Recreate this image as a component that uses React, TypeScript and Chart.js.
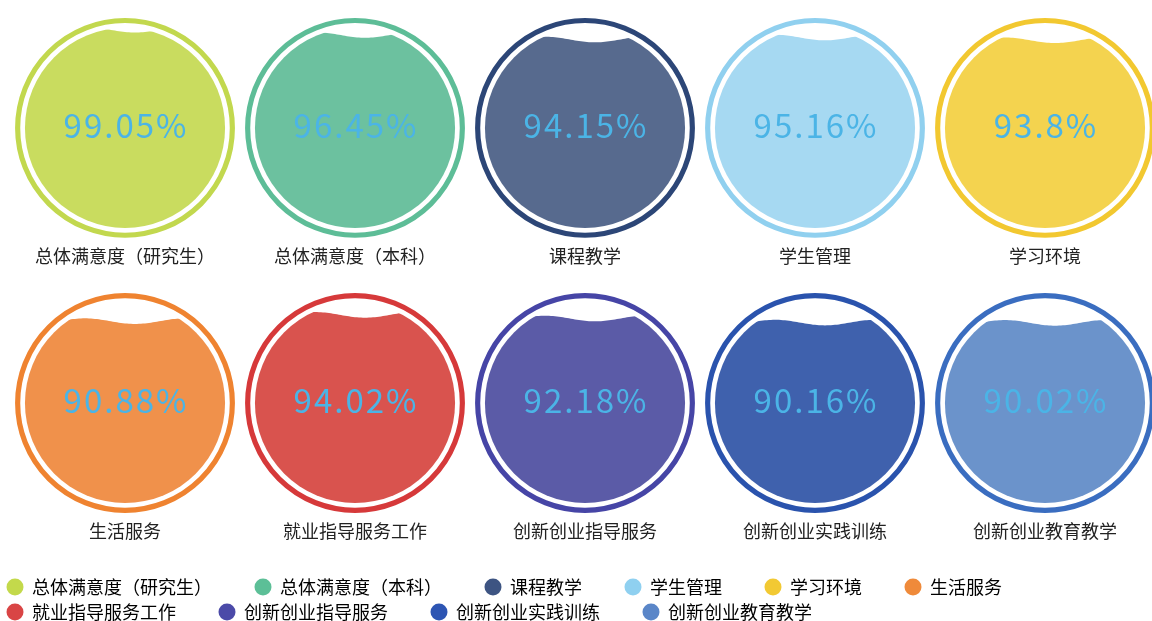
import React, { useEffect, useRef } from 'react';
import { Chart, registerables } from 'chart.js';

Chart.register(...registerables);

const FONT = '"Noto Sans CJK SC", "Noto Sans", sans-serif';

const categories = [
  '总体满意度（研究生）',
  '总体满意度（本科）',
  '课程教学',
  '学生管理',
  '学习环境',
  '生活服务',
  '就业指导服务工作',
  '创新创业指导服务',
  '创新创业实践训练',
  '创新创业教育教学',
];

const values = [99.05, 96.45, 94.15, 95.16, 93.8, 90.88, 94.02, 92.18, 90.16, 90.02];

const fillColors = [
  '#c9dc5f', '#6cc19f', '#576a8e', '#a6d9f2', '#f4d34f',
  '#f0914b', '#d9534e', '#5b5ba7', '#3f61ad', '#6b93cb',
];

const ringColors = [
  '#c2d84e', '#5dbd97', '#2c4677', '#90d0ef', '#f2c830',
  '#ef8330', '#d6393a', '#4645a6', '#2a53ad', '#3a6dc0',
];

const legendColors = [
  '#c3d94b', '#5cbf97', '#3d5482', '#8fd0f0', '#f2c933',
  '#ef8a3a', '#d94545', '#4b4aa8', '#2d55b3', '#5a86c8',
];

const COLS = 5;

const liquidPlugin = {
  id: 'liquidFill',
  afterDatasetsDraw(chart: any) {
    const ctx = chart.ctx as CanvasRenderingContext2D;
    const xs = chart.scales.x;
    const R = Math.abs(xs.getPixelForValue(1) - xs.getPixelForValue(0)) * 0.478;
    const ringW = R * 0.047;
    const r = R * 0.91;
    chart.data.datasets.forEach((ds: any, i: number) => {
      const el = chart.getDatasetMeta(i).data[0];
      if (!el) return;
      const cx = el.x;
      const cy = el.y;
      ctx.save();
      // outer ring
      ctx.beginPath();
      ctx.arc(cx, cy, R - ringW / 2, 0, Math.PI * 2);
      ctx.lineWidth = ringW;
      ctx.strokeStyle = ringColors[i];
      ctx.stroke();
      // liquid
      ctx.save();
      ctx.beginPath();
      ctx.arc(cx, cy, r, 0, Math.PI * 2);
      ctx.clip();
      const level = cy + r - (values[i] / 100) * 2 * r;
      const A = r * 0.028;
      const L = r * 1.0;
      const phase = cx + r * 0.1;
      ctx.beginPath();
      ctx.moveTo(cx - r - 2, cy + r + 2);
      for (let x = cx - r - 2; x <= cx + r + 2; x += 2) {
        const y = level + A * Math.cos((2 * Math.PI * (x - phase)) / L);
        ctx.lineTo(x, y);
      }
      ctx.lineTo(cx + r + 2, cy + r + 2);
      ctx.closePath();
      ctx.fillStyle = fillColors[i];
      ctx.fill();
      ctx.restore();
      // value text
      ctx.font = `400 33px ${FONT}`;
      (ctx as any).letterSpacing = '2px';
      ctx.fillStyle = '#4bb4e6';
      ctx.textAlign = 'center';
      ctx.textBaseline = 'middle';
      ctx.fillText(`${values[i]}%`, cx + 1, cy - 2);
      (ctx as any).letterSpacing = '0px';
      // category label
      ctx.font = `400 18px ${FONT}`;
      ctx.fillStyle = '#222';
      ctx.fillText(categories[i], cx, cy + R + 18);
      ctx.restore();
    });
  },
};

export default function App() {
  const ref = useRef<HTMLCanvasElement | null>(null);

  useEffect(() => {
    document.body.style.margin = '0';
    document.documentElement.style.overflow = 'hidden';
    document.body.style.overflow = 'hidden';
    const canvas = ref.current;
    if (!canvas) return;
    const datasets = categories.map((name, i) => ({
      label: name,
      data: [{ x: i % COLS, y: i < COLS ? 1 : 0 }],
      backgroundColor: legendColors[i],
      borderColor: legendColors[i],
      pointRadius: 0,
      pointHoverRadius: 0,
      pointStyle: 'circle',
    }));
    const chart = new Chart(canvas, {
      type: 'scatter',
      data: { datasets },
      plugins: [liquidPlugin],
      options: {
        animation: false,
        responsive: true,
        maintainAspectRatio: false,
        layout: { padding: 0 },
        events: [],
        scales: {
          x: { type: 'linear', display: false, min: -0.5435, max: 4.4652 },
          y: { type: 'linear', display: false, min: -0.611, max: 1.465 },
        },
        plugins: {
          tooltip: { enabled: false },
          legend: {
            position: 'bottom',
            align: 'start',
            labels: {
              usePointStyle: true,
              pointStyle: 'circle',
              boxWidth: 16,
              boxHeight: 12,
              padding: 7,
              color: '#333',
              font: { size: 18, family: FONT },
              generateLabels: () =>
                categories.map((name, i) => ({
                  text: name + '\u3000\u3000',
                  fillStyle: legendColors[i],
                  strokeStyle: legendColors[i],
                  lineWidth: 0,
                  pointStyle: 'circle',
                  hidden: false,
                  datasetIndex: i,
                })),
            },
          },
        },
      } as any,
    });
    return () => chart.destroy();
  }, []);

  return (
    <div style={{ width: 1152, height: 621, overflow: 'hidden', position: 'relative', background: '#fff' }}>
      <div style={{ width: 1152, height: 631, position: 'relative' }}>
        <canvas ref={ref} style={{ textSpacingTrim: 'space-all' } as any} lang="zh-CN" />
      </div>
    </div>
  );
}
